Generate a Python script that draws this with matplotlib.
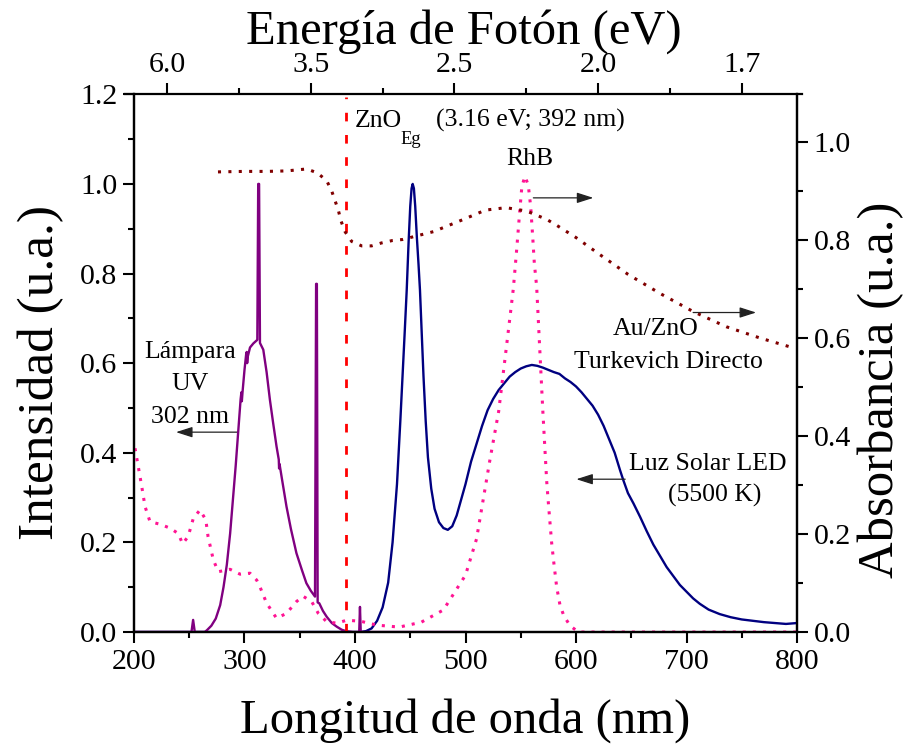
import numpy as np
import matplotlib
matplotlib.use("Agg")
import matplotlib.pyplot as plt
from matplotlib.ticker import MultipleLocator, FixedLocator

plt.rcParams['font.family'] = ['Liberation Serif', 'DejaVu Serif']
plt.rcParams['mathtext.fontset'] = 'custom'
plt.rcParams['mathtext.rm'] = 'Liberation Serif'

# ---- spectra -------------------------------------------------------------
# UV lamp emission (left axis)
lamp_nm = [200, 252, 253.5, 255, 264, 266, 270, 274, 278, 281, 284, 287, 290,
           292, 294.4, 296.5, 297.2, 297.6, 298.2, 300, 301.5, 302, 302.4,
           303, 305, 308, 311.6, 312.4, 313.2, 314, 317, 320, 323, 326, 329,
           331, 331.3, 331.7, 334, 338, 342, 347, 352, 356, 360, 363.8, 364.8,
           365.5, 366.2, 367.7, 371, 374.4, 379, 383.4, 388, 392, 398, 403.8,
           404.5, 405.2, 410, 500]
lamp_val = [0, 0, 0.027, 0, 0, 0.004, 0.014, 0.03, 0.06, 0.1, 0.15, 0.22, 0.31,
            0.37, 0.45, 0.52, 0.535, 0.515, 0.535, 0.585, 0.62, 0.625, 0.6,
            0.615, 0.635, 0.644, 0.652, 1.0, 1.0, 0.645, 0.63, 0.58, 0.518,
            0.465, 0.414, 0.385, 0.365, 0.375, 0.34, 0.28, 0.23, 0.176, 0.138,
            0.109, 0.092, 0.079, 0.777, 0.777, 0.066, 0.064, 0.047, 0.034,
            0.02, 0.012, 0.005, 0.002, 0, 0, 0.056, 0, 0, 0]

# White-light LED emission (left axis)
led_nm = [200, 405, 410, 415, 420, 425, 430, 434, 438, 441, 443, 445, 446.8,
          448.5, 450, 451.2, 452.2, 453.3, 454.5, 456, 457.5, 458.8, 460.5,
          462, 464, 466, 469, 472, 476, 480, 484, 488, 492, 496, 500, 505, 510,
          515, 520, 525, 530, 535, 540, 545, 550, 555, 560, 565, 570, 575, 580,
          585, 590, 595, 600, 605, 610, 615, 620, 625, 630, 635, 640, 642.8,
          647, 652, 658, 664, 670, 676, 682, 688, 694, 700, 706, 712, 720, 730,
          740, 750, 760, 770, 780, 790, 800]
led_val = [0, 0, 0.002, 0.008, 0.025, 0.055, 0.11, 0.2, 0.33, 0.47, 0.57, 0.67,
           0.763, 0.87, 0.95, 0.99, 1.0, 0.99, 0.95, 0.88, 0.82, 0.763, 0.66,
           0.57, 0.47, 0.39, 0.32, 0.275, 0.245, 0.232, 0.228, 0.236, 0.26,
           0.295, 0.33, 0.38, 0.42, 0.46, 0.495, 0.52, 0.54, 0.555, 0.57, 0.58,
           0.588, 0.593, 0.596, 0.594, 0.59, 0.585, 0.58, 0.576, 0.566, 0.558,
           0.548, 0.535, 0.52, 0.505, 0.485, 0.46, 0.43, 0.4, 0.36, 0.339,
           0.31, 0.287, 0.257, 0.225, 0.195, 0.17, 0.145, 0.125, 0.105, 0.09,
           0.075, 0.063, 0.05, 0.04, 0.033, 0.028, 0.025, 0.022, 0.02, 0.018,
           0.02]

# Rhodamine B absorbance (right axis)
rhb_nm = [200.9, 203.9, 207, 210, 214.5, 223.5, 232.6, 240, 244, 249, 253.7,
          259.7, 265, 267, 271.8, 276.3, 286.9, 296, 305, 311, 314, 320, 329,
          338, 347, 353, 360.8, 366.8, 374.4, 383.4, 392.5, 405, 420, 440, 460,
          480, 500, 510, 522, 530, 538, 543.3, 546.3, 548.7, 551, 553.8, 556.8,
          559, 560.8, 562.3, 564.4, 570, 573.5, 575, 576.5, 578, 580, 582.5,
          585.5, 589, 594.6, 602, 800]
rhb_val = [0.375, 0.337, 0.297, 0.256, 0.225, 0.22, 0.212, 0.201, 0.18, 0.195,
           0.232, 0.249, 0.229, 0.195, 0.147, 0.123, 0.128, 0.118, 0.12, 0.106,
           0.092, 0.059, 0.028, 0.038, 0.062, 0.073, 0.062, 0.038, 0.021, 0.018,
           0.024, 0.022, 0.014, 0.01, 0.02, 0.045, 0.116, 0.19, 0.35, 0.45,
           0.6, 0.701, 0.78, 0.848, 0.909, 0.93, 0.912, 0.868, 0.807, 0.752,
           0.705, 0.45, 0.307, 0.263, 0.222, 0.181, 0.14, 0.092, 0.055, 0.033,
           0.013, 0.0, 0.0]

# Au/ZnO (direct Turkevich) absorbance (right axis)
auzno_nm = [276, 300, 320, 338.2, 356.3, 365.9, 374.4, 378.9, 382, 385, 387.3,
            391, 397, 406, 415, 424, 434, 443, 470.9, 499.2, 518, 536.7, 555.4,
            573.5, 582.5, 600, 621.7, 647, 676, 706, 736, 766.5, 798]
auzno_val = [0.939, 0.94, 0.94, 0.941, 0.945, 0.937, 0.921, 0.9, 0.88, 0.86,
             0.839, 0.817, 0.797, 0.788, 0.788, 0.794, 0.799, 0.801, 0.817,
             0.843, 0.861, 0.866, 0.859, 0.842, 0.83, 0.805, 0.77, 0.73, 0.691,
             0.654, 0.623, 0.6, 0.579]

zno_gap_nm = 392

# top axis: photon-energy labels
top_tick_nm = [230, 360, 490, 620, 750]
top_tick_labels = ['6.0', '3.5', '2.5', '2.0', '1.7']

# ---- figure --------------------------------------------------------------
W, H = 907, 751
fig = plt.figure(figsize=(W / 100, H / 100), dpi=100)
L, R, B, T = 134, 797, 632, 94.3
ax = fig.add_axes([L / W, 1 - B / H, (R - L) / W, (B - T) / H])
ax2 = ax.twinx()

C_LAMP = '#800080'
C_LED = '#000080'
C_RHB = '#FF1493'
C_AU = '#800000'

ax.plot(led_nm, led_val, color=C_LED, lw=1.7, zorder=3)
ax.plot(lamp_nm, lamp_val, color=C_LAMP, lw=1.7, zorder=4)
ax.axvline(zno_gap_nm, ymin=0, ymax=0.995, color='#FF0000', lw=2.0,
           dashes=(3.1, 4.9), zorder=5)

ax2.plot(rhb_nm, rhb_val, color=C_RHB, lw=2.2, dashes=(1, 2.3))
ax2.plot(auzno_nm, auzno_val, color=C_AU, lw=2.2, dashes=(1, 2.4))

ax.set_xlim(200, 800)
ax.set_ylim(0, 1.2)
ax2.set_ylim(0, (B - T) / 490)

ax.xaxis.set_major_locator(MultipleLocator(100))
ax.xaxis.set_minor_locator(MultipleLocator(50))
ax.yaxis.set_major_locator(MultipleLocator(0.2))
ax.yaxis.set_minor_locator(MultipleLocator(0.1))
ax2.yaxis.set_major_locator(MultipleLocator(0.2))
ax2.yaxis.set_minor_locator(MultipleLocator(0.1))
ax.yaxis.set_major_formatter(lambda v, p: f'{v:.1f}')
ax2.yaxis.set_major_formatter(lambda v, p: f'{v:.1f}')

TS = 21.5
for a in (ax, ax2):
    a.tick_params(which='major', direction='out', length=8, width=1.5,
                  labelsize=TS, pad=4)
    a.tick_params(which='minor', direction='out', length=4.5, width=1.5)
    for s in a.spines.values():
        s.set_linewidth(1.6)
ax.spines['top'].set_visible(False)
ax2.spines['top'].set_visible(False)

ax.set_xlabel('Longitud de onda (nm)', fontsize=35, labelpad=17)
ax.set_ylabel('Intensidad (u.a.)', fontsize=37)
ax.yaxis.set_label_coords(-0.106, 0.482)
ax2.set_ylabel('Absorbancia (u.a.)', fontsize=36.5)
ax2.yaxis.set_label_coords(1.092, 0.451)

# top energy axis
axt = fig.add_axes([125 / W, 1 - B / H, (802 - 125) / W, (B - T) / H])
axt.patch.set_visible(False)
for k in ('left', 'right', 'bottom'):
    axt.spines[k].set_visible(False)
axt.spines['top'].set_linewidth(1.6)
axt.set_xlim(200 - 9 / 1.105, 800 + 5 / 1.105)
axt.set_yticks([])
axt.xaxis.tick_top()
axt.xaxis.set_label_position('top')
axt.xaxis.set_major_locator(FixedLocator(top_tick_nm))
axt.set_xticklabels(top_tick_labels)
axt.xaxis.set_minor_locator(FixedLocator(
    [(a + b) / 2 for a, b in zip(top_tick_nm[:-1], top_tick_nm[1:])]))
axt.tick_params(which='major', direction='out', length=8, width=1.5,
                labelsize=TS, pad=4)
axt.tick_params(which='minor', direction='out', length=4.5, width=1.5)
axt.set_xlabel('Energía de Fotón (eV)', fontsize=35, labelpad=6)

# ---- annotations ----------------------------------------------------------
FS = 18.5
for txt, y in (('Lámpara', 0.6116), ('UV', 0.540), ('302 nm', 0.4665)):
    ax.text(251, y, txt, fontsize=FS, ha='center', va='baseline')
ax.text(400, 1.128, 'ZnO', fontsize=FS, ha='left', va='baseline')
ax.text(440.8, 1.089, 'Eg', fontsize=FS * 0.72, ha='left', va='baseline')
ax.text(473.3, 1.128, '(3.16 eV; 392 nm)', fontsize=FS, ha='left', va='baseline')
ax.text(558, 1.0424, 'RhB', fontsize=FS, ha='center', va='baseline')
ax.text(672.2, 0.663, 'Au/ZnO', fontsize=FS, ha='center', va='baseline')
ax.text(683.8, 0.5886, 'Turkevich Directo', fontsize=FS, ha='center', va='baseline')
ax.text(719, 0.3616, 'Luz Solar LED', fontsize=FS, ha='center', va='baseline')
ax.text(725.3, 0.2908, '(5500 K)', fontsize=FS, ha='center', va='baseline')

arrow = dict(arrowstyle='-|>,head_length=0.5,head_width=0.16',
             color='#222222', lw=0.9, mutation_scale=20, shrinkA=0, shrinkB=0)
ax.annotate('', xy=(238, 0.446), xytext=(294.4, 0.446), arrowprops=arrow)
ax.annotate('', xy=(600.3, 0.341), xytext=(644.5, 0.341), arrowprops=arrow)
ax2.annotate('', xy=(615.7, 0.886), xytext=(561.4, 0.886), arrowprops=arrow)
ax2.annotate('', xy=(763, 0.652), xytext=(706, 0.652), arrowprops=arrow)

fig.savefig('out.png', dpi=100)
